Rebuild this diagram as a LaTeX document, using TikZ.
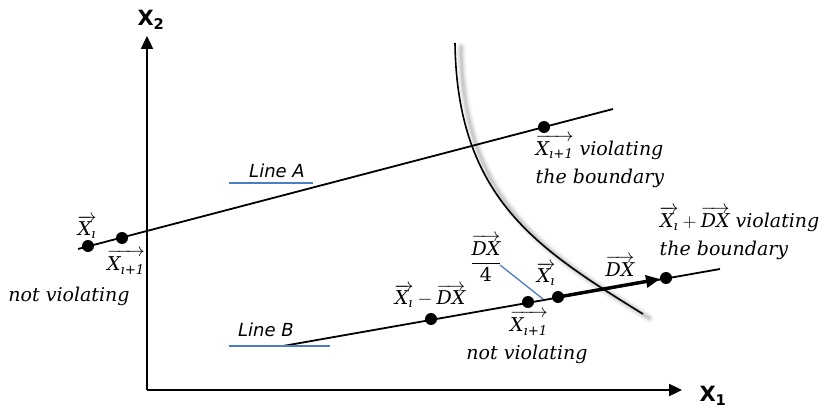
\documentclass[tikz,border=0pt]{standalone}
\usepackage{fix-cm}
\usepackage{amsmath}
\usepackage{fontspec}
\newfontfamily\vsans{DejaVu Sans}
\newfontfamily\cser{DejaVu Serif}
\usetikzlibrary{arrows.meta}
\definecolor{lblue}{HTML}{4A7FC1}
\newcommand\vx[1]{\overrightarrow{\textit{X}_{\textit{#1}}}}
\newcommand\vdx{\overrightarrow{\textit{DX}}}
\tikzset{
  axis/.style={line width=2.4pt,-{Triangle[length=13pt,width=12pt]}},
  ln/.style={line width=1.8pt},
  dot/.style={circle,fill=black,inner sep=0pt,minimum size=12pt},
  lab/.style={font=\cser\fontsize{19}{28}\selectfont\itshape,inner sep=0.5pt},
  axlab/.style={font=\vsans\bfseries\fontsize{21}{24}\selectfont},
  linelab/.style={font=\vsans\itshape\fontsize{18}{20}\selectfont},
  uline/.style={lblue,line width=1.3pt},
}
\begin{document}
\begin{tikzpicture}[x=1pt,y=-1pt]
\useasboundingbox (0,0) rectangle (828,409);
% axes
\coordinate (O) at (147,390);
\coordinate (ytop) at (147,36);
\coordinate (xend) at (682,390);
\draw[axis] (O) -- (ytop);
\draw[axis] (O) -- (xend);
\node[axlab] (x2) at (151,20) {X\textsubscript{2}};
\node[axlab] (x1) at (713,396) {X\textsubscript{1}};
% boundary with shadow
\foreach \d/\o in {10/0.05,8/0.07,6/0.09,4/0.12,2.5/0.16}{
  \draw[line width=\d pt,gray,opacity=\o,line cap=round]
    (461,47) .. controls (463,204) and (546,254) .. (649,318);
}
\coordinate (b0) at (455,43);
\coordinate (b1) at (643,314);
\draw[line width=1.6pt] (b0) .. controls (457,200) and (540,250) .. (b1);
% Line A
\coordinate (la0) at (78,249);
\coordinate (la1) at (613,109);
\draw[ln] (la0) -- (la1);
\node[dot] (a1) at (88,246) {};
\node[dot] (a2) at (122,238) {};
\node[dot] (a3) at (544,127) {};
\node[lab] (ta1) at (87,227) {$\vx{ı}$};
\node[lab] (ta2) at (126,262) {$\vx{ı+1}$};
\node[lab] (ta3) at (69,296) {not violating};
\node[lab,align=left,anchor=north west] (ta4) at (535,134) {$\vx{ı+1}$ violating\\the boundary};
\node[linelab] (lA) at (277,171) {Line A};
\coordinate (uA0) at (229,183);
\coordinate (uA1) at (313,183);
\draw[uline] (uA0) -- (uA1);
% Line B
\coordinate (lb0) at (283,346);
\coordinate (lb1) at (720,269);
\draw[ln] (lb0) -- (lb1);
\node[dot] (b1d) at (431,319) {};
\node[dot] (b2d) at (528,302) {};
\node[dot] (b3d) at (558,297) {};
\node[dot] (b4d) at (666,278) {};
\draw[line width=3.4pt,-{Triangle[length=14pt,width=12pt]}] (b3d.center) -- (660,279);
\node[linelab] (lB) at (266,330) {Line B};
\coordinate (uB0) at (229,346);
\coordinate (uB1) at (330,346);
\draw[uline] (uB0) -- (uB1);
\node[lab] (tb1) at (430,296) {$\vx{ı}-\vdx$};
\node[lab] (tb2) at (486,258) {$\dfrac{\vdx}{\textup{4}}$};
\coordinate (p0) at (500,265);
\coordinate (p1) at (543,299);
\draw[uline] (p0) -- (p1);
\node[lab] (tb3) at (546,274) {$\vx{ı}$};
\node[lab] (tb4) at (620,266) {$\vdx$};
\node[lab] (tb5) at (529,323) {$\vx{ı+1}$};
\node[lab] (tb6) at (527,354) {not violating};
\node[lab,align=left,anchor=north west] (tb7) at (659,206) {$\vx{ı}+\vdx$ violating\\the boundary};
\end{tikzpicture}
\end{document}
